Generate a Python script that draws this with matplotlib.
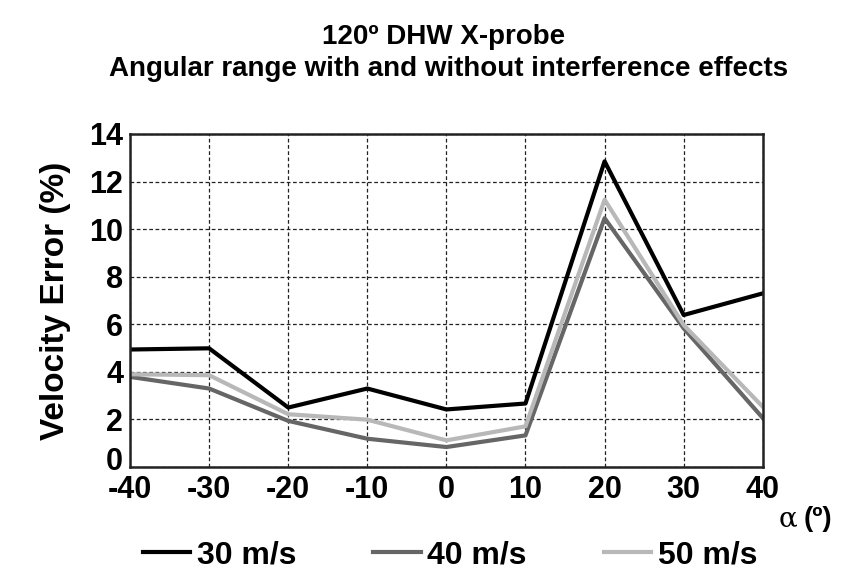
import matplotlib
matplotlib.use('Agg')
import matplotlib.pyplot as plt
from matplotlib.transforms import ScaledTranslation

# Data
angles = [-40, -30, -20, -10, 0, 10, 20, 30, 40]
err_30 = [4.94, 4.99, 2.50, 3.30, 2.42, 2.67, 12.85, 6.39, 7.30]
err_40 = [3.79, 3.30, 1.94, 1.19, 0.84, 1.33, 10.46, 5.83, 2.06]
err_50 = [3.90, 3.86, 2.22, 1.99, 1.12, 1.71, 11.24, 5.97, 2.53]
labels = ['30 m/s', '40 m/s', '50 m/s']
colors = ['#000000', '#666666', '#b8b8b8']

plt.rcParams['font.family'] = ['Liberation Sans', 'DejaVu Sans']
plt.rcParams['font.weight'] = 'bold'
plt.rcParams['axes.unicode_minus'] = False

fig = plt.figure(figsize=(8.41, 5.77), dpi=100)
ax = fig.add_axes([0.1546, 0.1906, 0.7524, 0.5772])

for y, lab, c in zip([err_30, err_40, err_50], labels, colors):
    ax.plot(angles, y, color=c, linewidth=3, label=lab)

ax.set_xlim(-40, 40)
ax.set_ylim(0, 14)
ax.set_xticks(range(-40, 41, 10))
ax.set_yticks(range(0, 15, 2))
ax.tick_params(axis='y', labelsize=22, length=0, pad=5)
ax.tick_params(axis='x', labelsize=22, length=0, pad=6)
for lbl in ax.get_xticklabels() + ax.get_yticklabels():
    lbl.set_fontweight('bold')
# the "0" label sits a little above the axis corner in the original
zero_lbl = ax.get_yticklabels()[0]
zero_lbl.set_transform(zero_lbl.get_transform() + ScaledTranslation(0, 0.09, fig.dpi_scale_trans))

ax.grid(True, linestyle=(0, (3, 2)), linewidth=0.9, color='#222222')
for s in ax.spines.values():
    s.set_linewidth(1.8)
    s.set_color('#222222')

ax.set_ylabel('Velocity Error (%)', fontsize=24, fontweight='bold', labelpad=13)
fig.text(0.948, 0.1, 'α', fontsize=20, ha='right', va='center',
         family=['DejaVu Serif'], fontweight='normal')
fig.text(0.956, 0.1, '(º)', fontsize=20, ha='left', va='center', fontweight='bold')

fig.text(0.527, 0.936, '120º DHW X-probe', fontsize=20, ha='center', va='center', fontweight='bold')
fig.text(0.533, 0.880, 'Angular range with and without interference effects', fontsize=20,
         ha='center', va='center', fontweight='bold')

fig.legend(loc='center', bbox_to_anchor=(0.535, 0.038), ncol=3, frameon=False,
           handlelength=1.5, handletextpad=0.2, columnspacing=2.4,
           prop={'size': 23, 'weight': 'bold'})

fig.savefig('out.png', dpi=100, facecolor='white')
